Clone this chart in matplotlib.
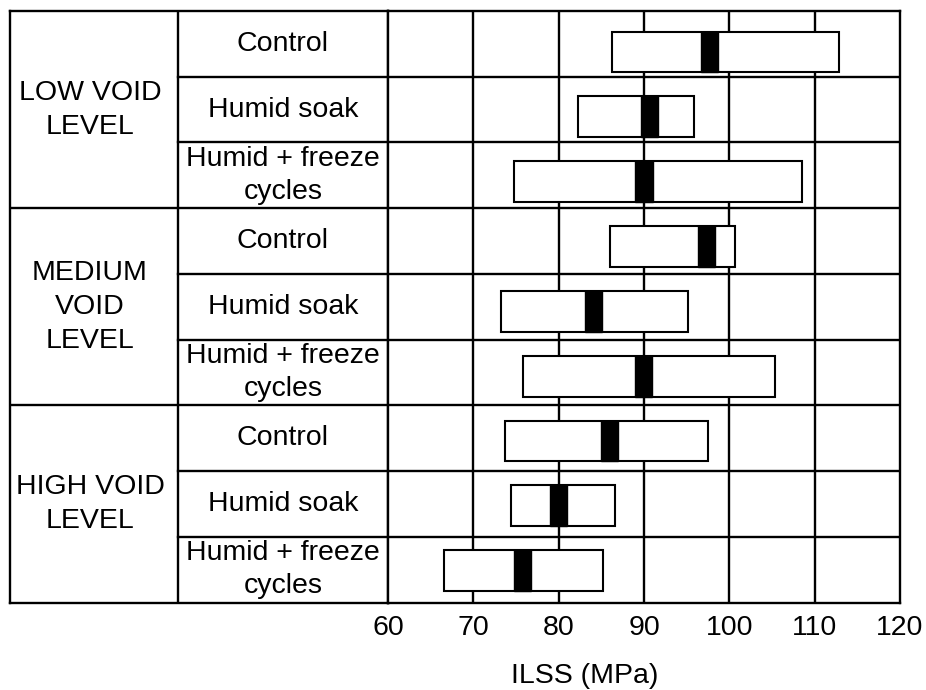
import matplotlib
matplotlib.use('Agg')
import matplotlib.pyplot as plt

# ILSS ranges (MPa), rows top to bottom
void_levels = ['LOW VOID\nLEVEL', 'MEDIUM\nVOID\nLEVEL', 'HIGH VOID\nLEVEL']
conditions = ['Control', 'Humid soak', 'Humid + freeze\ncycles']

ilss_low = [86.2, 82.3, 74.8, 86.0, 73.2, 75.8, 73.7, 74.4, 66.6]
ilss_high = [112.8, 95.9, 108.5, 100.7, 95.1, 105.3, 97.5, 86.6, 85.2]
ilss_median = [97.7, 90.6, 90.0, 97.3, 84.1, 89.9, 86.0, 80.0, 75.8]

xticks = [60, 70, 80, 90, 100, 110, 120]

plt.rcParams['font.family'] = ['Liberation Sans', 'DejaVu Sans']
FS = 20.5
LW = 1.7

W, H = 926, 690
fig = plt.figure(figsize=(W / 100, H / 100), dpi=100)

top, bottom = 11, 602.7
left, split, right = 10, 388, 900
n_rows = len(ilss_low)
n_cond = len(conditions)

ax_tab = fig.add_axes([left / W, (H - bottom) / H, (split - left) / W, (bottom - top) / H])
ax = fig.add_axes([split / W, (H - bottom) / H, (right - split) / W, (bottom - top) / H])

# table part on the left
ax_tab.set_xlim(0, 1)
ax_tab.set_ylim(n_rows, 0)
ax_tab.set_xticks([])
ax_tab.set_yticks([])
for s in ax_tab.spines.values():
    s.set_linewidth(LW)
col_x = (178 - left) / (split - left)
ax_tab.axvline(col_x, color='black', lw=LW)
for i in range(1, n_rows):
    if i % n_cond == 0:
        ax_tab.plot([0, 1], [i, i], color='black', lw=LW)
    else:
        ax_tab.plot([col_x, 1], [i, i], color='black', lw=LW)

cond_x = (col_x + 1) / 2
lvl_x = (90 - left) / (split - left)
for g, name in enumerate(void_levels):
    ax_tab.text(lvl_x, g * n_cond + n_cond / 2, name, ha='center', va='center',
                fontsize=FS, linespacing=1.4)
    for c, cond in enumerate(conditions):
        ax_tab.text(cond_x, g * n_cond + c + 0.5, cond, ha='center', va='center',
                    fontsize=FS, linespacing=1.35)

# plot part
ax.set_xlim(60, 120)
ax.set_ylim(n_rows, 0)
ax.set_xticks(xticks)
ax.set_yticks([])
ax.tick_params(axis='x', length=0, pad=9, labelsize=FS)
for s in ax.spines.values():
    s.set_linewidth(LW)
for x in xticks[1:-1]:
    ax.axvline(x, color='black', lw=LW, zorder=1)
for i in range(1, n_rows):
    ax.axhline(i, color='black', lw=LW, zorder=1)

rows = [0.624 + i * 0.986 for i in range(n_rows)]
widths = [h - l for l, h in zip(ilss_low, ilss_high)]
ax.barh(rows, widths, left=ilss_low, height=0.62, color='white',
        edgecolor='black', lw=1.5, zorder=3)
ax.barh(rows, 2.0, left=[m - 1.0 for m in ilss_median], height=0.62,
        color='black', edgecolor='black', lw=1.0, zorder=4)

fig.text(585 / W, 1 - 676 / H, 'ILSS (MPa)', ha='center', va='center', fontsize=FS)

plt.savefig('out.png', dpi=100)
